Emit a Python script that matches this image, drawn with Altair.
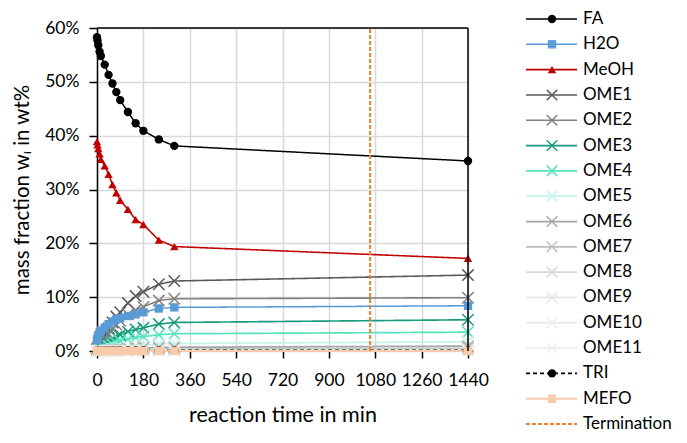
import altair as alt
import pandas as pd

# ---------------- data ----------------
times = [0, 2, 5, 10, 15, 30, 45, 60, 75, 90, 120, 150, 180, 240, 300, 1440]

FA    = [58.3, 57.7, 56.8, 55.6, 54.8, 53.2, 51.3, 49.7, 48.1, 46.6, 44.4, 42.3, 40.9, 39.3, 38.1, 35.3]
H2O   = [2.0, 2.4, 2.9, 3.4, 3.8, 4.3, 5.0, 5.5, 5.9, 6.1, 6.5, 6.8, 7.2, 7.9, 8.1, 8.4]
MeOH  = [38.9, 38.3, 37.6, 36.6, 35.6, 34.4, 32.8, 30.9, 29.4, 28.0, 26.3, 24.4, 23.5, 20.6, 19.4, 17.2]
OME1  = [0.2, 0.4, 0.8, 1.3, 1.8, 3.0, 4.2, 5.3, 6.4, 7.2, 8.9, 10.2, 11.0, 12.4, 13.0, 14.1]
OME2  = [0.1, 0.3, 0.5, 0.9, 1.3, 2.2, 3.2, 4.1, 4.9, 5.6, 6.8, 7.6, 8.2, 9.4, 9.7, 9.9]
OME3  = [0.05, 0.1, 0.2, 0.4, 0.6, 1.1, 1.6, 2.1, 2.6, 3.0, 3.6, 4.0, 4.3, 5.0, 5.3, 5.8]
OME4  = [0.0, 0.05, 0.1, 0.2, 0.3, 0.6, 0.9, 1.2, 1.5, 1.8, 2.2, 2.5, 2.7, 3.0, 3.2, 3.5]
OME5  = [0.0, 0.0, 0.05, 0.1, 0.1, 0.2, 0.3, 0.4, 0.5, 0.6, 0.8, 1.0, 1.1, 1.3, 1.4, 1.7]
OME6  = [0.0, 0.0, 0.0, 0.05, 0.05, 0.1, 0.15, 0.2, 0.25, 0.3, 0.4, 0.5, 0.55, 0.65, 0.7, 0.9]
OME7  = [0.0, 0.0, 0.0, 0.0, 0.0, 0.05, 0.05, 0.1, 0.1, 0.15, 0.2, 0.25, 0.3, 0.33, 0.35, 0.5]
OME8  = [0.0, 0.0, 0.0, 0.0, 0.0, 0.0, 0.0, 0.05, 0.05, 0.05, 0.1, 0.12, 0.15, 0.18, 0.2, 0.3]
OME9  = [0.0, 0.0, 0.0, 0.0, 0.0, 0.0, 0.0, 0.0, 0.0, 0.02, 0.04, 0.05, 0.07, 0.09, 0.1, 0.15]
OME10 = [0.0, 0.0, 0.0, 0.0, 0.0, 0.0, 0.0, 0.0, 0.0, 0.0, 0.02, 0.02, 0.03, 0.04, 0.05, 0.08]
OME11 = [0.0, 0.0, 0.0, 0.0, 0.0, 0.0, 0.0, 0.0, 0.0, 0.0, 0.0, 0.01, 0.02, 0.02, 0.03, 0.05]
TRI   = [0.1, 0.1, 0.1, 0.1, 0.1, 0.1, 0.1, 0.1, 0.1, 0.1, 0.1, 0.1, 0.1, 0.1, 0.1, 0.1]
MEFO  = [0.0, 0.0, 0.0, 0.0, 0.0, 0.0, 0.0, 0.0, 0.0, 0.0, 0.0, 0.0, 0.0, 0.0, 0.0, 0.0]

termination_time = 1060

series_names = ["FA", "H2O", "MeOH", "OME1", "OME2", "OME3", "OME4", "OME5", "OME6",
                "OME7", "OME8", "OME9", "OME10", "OME11", "TRI", "MEFO"]
series_values = [FA, H2O, MeOH, OME1, OME2, OME3, OME4, OME5, OME6,
                 OME7, OME8, OME9, OME10, OME11, TRI, MEFO]
legend_names = series_names + ["Termination"]

x_ticks = [0, 180, 360, 540, 720, 900, 1080, 1260, 1440]
y_ticks = [0, 0.1, 0.2, 0.3, 0.4, 0.5, 0.6]

# ---------------- styles ----------------
colors = ["#000000", "#5b9bd5", "#c00000", "#595959", "#808080", "#179c7d", "#57e2c1",
          "#c5f3e9", "#a6a6a6", "#bfbfbf", "#d9d9d9", "#e6e6e6", "#ececec", "#efefef",
          "#000000", "#f8cbad", "#ed7d31"]
dashes = [[1, 0]] * 14 + [[4, 3], [1, 0], [4, 2]]
widths = [1.5] + [2] * 13 + [1.5, 2, 2]

XPATH = "M-1,-1L1,1M-1,1L1,-1"
filled_names = ["FA", "H2O", "MeOH", "TRI", "MEFO"]
filled_shapes = ["circle", "square", "triangle-up", "circle", "square"]
filled_sizes = [70, 72, 70, 45, 95]
cross_names = [n for n in series_names if n.startswith("OME")]

FONT = "Lato"

rows = []
for name, vals in zip(series_names, series_values):
    for t, v in zip(times, vals):
        rows.append({"series": name, "time": t, "value": v / 100.0})
df = pd.DataFrame(rows)

color_scale = alt.Scale(domain=legend_names, range=colors)
dash_scale = alt.Scale(domain=legend_names, range=dashes)
width_scale = alt.Scale(domain=legend_names, range=widths)
shape_scale = alt.Scale(domain=filled_names, range=filled_shapes)
size_scale = alt.Scale(domain=filled_names, range=filled_sizes)

xs = alt.Scale(domain=[0, 1440], nice=False, zero=False)
ys = alt.Scale(domain=[0, 0.6], nice=False)

x_enc = alt.X("time:Q", scale=xs, axis=alt.Axis(
    values=x_ticks, format="d", title="reaction time in min", grid=True, domain=False,
    tickColor="black", tickSize=7, tickWidth=1.5, labelPadding=13, titlePadding=16,
    labelFontSize=17.5, titleFontSize=21.5, labelFont=FONT, titleFont=FONT,
    labelColor="black", titleColor="black", titleFontWeight="normal",
    gridColor="#d9d9d9", gridWidth=1.5, labelFlush=False))
y_enc = alt.Y("value:Q", scale=ys, axis=alt.Axis(
    values=y_ticks, format=".0%", title="mass fraction wᵢ in wt%", grid=True,
    domain=True, domainColor="black", domainWidth=1.5,
    tickColor="black", tickSize=8, tickWidth=1.5, labelPadding=10, titlePadding=12,
    labelFontSize=17.5, titleFontSize=20.5, labelFont=FONT, titleFont=FONT,
    labelColor="black", titleColor="black", titleFontWeight="normal",
    gridColor="#d9d9d9", gridWidth=1.5))

base = alt.Chart(df)

lines = base.mark_line(interpolate="linear").encode(
    x=x_enc, y=y_enc,
    color=alt.Color("series:N", scale=color_scale, legend=None),
    strokeDash=alt.StrokeDash("series:N", scale=dash_scale, legend=None),
    strokeWidth=alt.StrokeWidth("series:N", scale=width_scale, legend=None),
    order="time:Q",
)

cross_pts = base.transform_filter(
    alt.FieldOneOfPredicate(field="series", oneOf=cross_names)
).mark_point(shape=XPATH, filled=False, strokeWidth=1.5, size=130, opacity=1).encode(
    x="time:Q", y="value:Q",
    color=alt.Color("series:N", scale=color_scale, legend=None),
)

filled_pts = base.transform_filter(
    alt.FieldOneOfPredicate(field="series", oneOf=filled_names)
).mark_point(filled=True, opacity=1).encode(
    x="time:Q", y="value:Q",
    color=alt.Color("series:N", scale=color_scale, legend=None),
    shape=alt.Shape("series:N", scale=shape_scale, legend=None),
    size=alt.Size("series:N", scale=size_scale, legend=None),
)

term = alt.Chart(pd.DataFrame({"t": [termination_time]})).mark_rule(
    color="#ed7d31", strokeDash=[4, 2], strokeWidth=2
).encode(x="t:Q", y=alt.datum(0), y2=alt.datum(0.6))

frame_top = alt.Chart(pd.DataFrame({"a": [0]})).mark_rule(color="black", strokeWidth=1.5).encode(
    x=alt.datum(0), x2=alt.datum(1440), y=alt.datum(0.6))
frame_right = alt.Chart(pd.DataFrame({"a": [0]})).mark_rule(color="black", strokeWidth=1.5).encode(
    x=alt.datum(1440), y=alt.datum(0), y2=alt.datum(0.6))

main = alt.layer(lines, term, cross_pts, filled_pts, frame_top, frame_right)

# ---------------- legend ----------------
leg_df = pd.DataFrame({"series": legend_names, "idx": list(range(len(legend_names)))})
ly = alt.Y("idx:Q", scale=alt.Scale(domain=[0, 16], range=[-9, 396]), axis=None)
lbase = alt.Chart(leg_df)

leg_lines = lbase.mark_rule().encode(
    x=alt.value(429), x2=alt.value(480), y=ly,
    color=alt.Color("series:N", scale=color_scale, legend=None),
    strokeDash=alt.StrokeDash("series:N", scale=dash_scale, legend=None),
    strokeWidth=alt.StrokeWidth("series:N", scale=width_scale, legend=None),
)
leg_cross = lbase.transform_filter(
    alt.FieldOneOfPredicate(field="series", oneOf=cross_names)
).mark_point(shape=XPATH, filled=False, strokeWidth=1.5, size=110, opacity=1).encode(
    x=alt.value(455), y=ly,
    color=alt.Color("series:N", scale=color_scale, legend=None),
)
leg_filled = lbase.transform_filter(
    alt.FieldOneOfPredicate(field="series", oneOf=filled_names)
).mark_point(filled=True, opacity=1).encode(
    x=alt.value(455), y=ly,
    color=alt.Color("series:N", scale=color_scale, legend=None),
    shape=alt.Shape("series:N", scale=shape_scale, legend=None),
    size=alt.Size("series:N", scale=size_scale, legend=None),
)
leg_text = lbase.mark_text(align="left", baseline="middle", font=FONT, fontSize=17,
                           color="black").encode(
    x=alt.value(486), y=ly, text="series:N")

legend = alt.layer(leg_lines, leg_cross, leg_filled, leg_text)

chart = alt.layer(main, legend).resolve_scale(y="independent").properties(
    width=371, height=323,
    autosize=alt.AutoSizeParams(type="none"),
    padding={"left": 89, "top": 20, "right": 211, "bottom": 84},
).configure_view(stroke=None)

chart.save("out.html", embed_options={"renderer": "svg", "actions": False})
